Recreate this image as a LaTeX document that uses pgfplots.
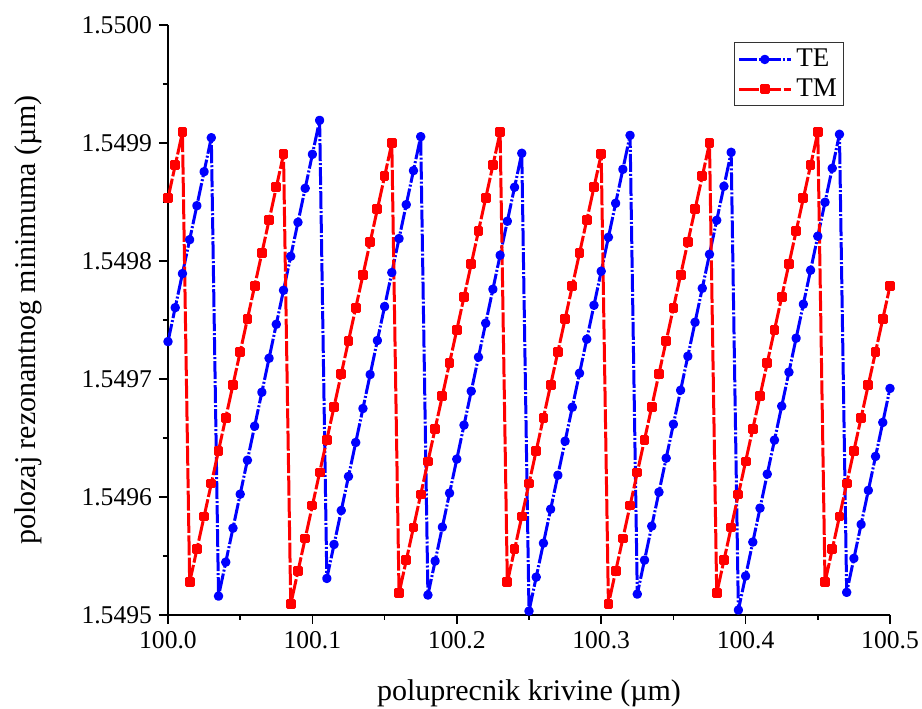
\documentclass[border=0pt]{standalone}
\usepackage{pgfplots}
\pgfplotsset{compat=1.18}
\usepackage{pgfplotstable}
\usepackage{fontspec}
\setmainfont{Liberation Serif}

\pgfplotstableread{
x y
100.000 1.5497317
100.005 1.5497605
100.010 1.5497893
100.015 1.5498181
100.020 1.5498469
100.025 1.5498757
100.030 1.5499045
100.035 1.5495160
100.040 1.5495448
100.045 1.5495736
100.050 1.5496024
100.055 1.5496312
100.060 1.5496600
100.065 1.5496888
100.070 1.5497176
100.075 1.5497464
100.080 1.5497752
100.085 1.5498040
100.090 1.5498328
100.095 1.5498616
100.100 1.5498904
100.105 1.5499192
100.110 1.5495310
100.115 1.5495598
100.120 1.5495886
100.125 1.5496174
100.130 1.5496462
100.135 1.5496750
100.140 1.5497038
100.145 1.5497326
100.150 1.5497614
100.155 1.5497902
100.160 1.5498190
100.165 1.5498478
100.170 1.5498766
100.175 1.5499054
100.180 1.5495169
100.185 1.5495457
100.190 1.5495745
100.195 1.5496033
100.200 1.5496321
100.205 1.5496609
100.210 1.5496897
100.215 1.5497185
100.220 1.5497473
100.225 1.5497761
100.230 1.5498049
100.235 1.5498337
100.240 1.5498625
100.245 1.5498913
100.250 1.5495033
100.255 1.5495321
100.260 1.5495609
100.265 1.5495897
100.270 1.5496185
100.275 1.5496473
100.280 1.5496761
100.285 1.5497049
100.290 1.5497337
100.295 1.5497625
100.300 1.5497913
100.305 1.5498201
100.310 1.5498489
100.315 1.5498777
100.320 1.5499065
100.325 1.5495177
100.330 1.5495465
100.335 1.5495753
100.340 1.5496041
100.345 1.5496329
100.350 1.5496617
100.355 1.5496905
100.360 1.5497193
100.365 1.5497481
100.370 1.5497769
100.375 1.5498057
100.380 1.5498345
100.385 1.5498633
100.390 1.5498921
100.395 1.5495042
100.400 1.5495330
100.405 1.5495618
100.410 1.5495906
100.415 1.5496194
100.420 1.5496482
100.425 1.5496770
100.430 1.5497058
100.435 1.5497346
100.440 1.5497634
100.445 1.5497922
100.450 1.5498210
100.455 1.5498498
100.460 1.5498786
100.465 1.5499074
100.470 1.5495192
100.475 1.5495480
100.480 1.5495768
100.485 1.5496056
100.490 1.5496344
100.495 1.5496632
100.500 1.5496920
}\TEdata

\pgfplotstableread{
x y
100.000 1.5498532
100.005 1.5498811
100.010 1.5499090
100.015 1.5495277
100.020 1.5495556
100.025 1.5495835
100.030 1.5496114
100.035 1.5496393
100.040 1.5496672
100.045 1.5496951
100.050 1.5497230
100.055 1.5497509
100.060 1.5497788
100.065 1.5498067
100.070 1.5498346
100.075 1.5498625
100.080 1.5498904
100.085 1.5495091
100.090 1.5495370
100.095 1.5495649
100.100 1.5495928
100.105 1.5496207
100.110 1.5496486
100.115 1.5496765
100.120 1.5497044
100.125 1.5497323
100.130 1.5497602
100.135 1.5497881
100.140 1.5498160
100.145 1.5498439
100.150 1.5498718
100.155 1.5498997
100.160 1.5495184
100.165 1.5495463
100.170 1.5495742
100.175 1.5496021
100.180 1.5496300
100.185 1.5496579
100.190 1.5496858
100.195 1.5497137
100.200 1.5497416
100.205 1.5497695
100.210 1.5497974
100.215 1.5498253
100.220 1.5498532
100.225 1.5498811
100.230 1.5499090
100.235 1.5495277
100.240 1.5495556
100.245 1.5495835
100.250 1.5496114
100.255 1.5496393
100.260 1.5496672
100.265 1.5496951
100.270 1.5497230
100.275 1.5497509
100.280 1.5497788
100.285 1.5498067
100.290 1.5498346
100.295 1.5498625
100.300 1.5498904
100.305 1.5495091
100.310 1.5495370
100.315 1.5495649
100.320 1.5495928
100.325 1.5496207
100.330 1.5496486
100.335 1.5496765
100.340 1.5497044
100.345 1.5497323
100.350 1.5497602
100.355 1.5497881
100.360 1.5498160
100.365 1.5498439
100.370 1.5498718
100.375 1.5498997
100.380 1.5495184
100.385 1.5495463
100.390 1.5495742
100.395 1.5496021
100.400 1.5496300
100.405 1.5496579
100.410 1.5496858
100.415 1.5497137
100.420 1.5497416
100.425 1.5497695
100.430 1.5497974
100.435 1.5498253
100.440 1.5498532
100.445 1.5498811
100.450 1.5499090
100.455 1.5495277
100.460 1.5495556
100.465 1.5495835
100.470 1.5496114
100.475 1.5496393
100.480 1.5496672
100.485 1.5496951
100.490 1.5497230
100.495 1.5497509
100.500 1.5497788
}\TMdata

\begin{document}
\begin{tikzpicture}
\useasboundingbox (-84pt,-46.5pt) rectangle (377pt,307.5pt);
\begin{axis}[
  at={(0pt,0pt)}, anchor=south west,
  scale only axis, width=361pt, height=295pt,
  xmin=100, xmax=100.5, ymin=1.5495, ymax=1.55,
  axis x line*=bottom, axis y line*=left,
  axis line style={line width=1pt, -},
  xtick={100,100.1,100.2,100.3,100.4,100.5},
  ytick={1.5495,1.5496,1.5497,1.5498,1.5499,1.55},
  minor x tick num=1, minor y tick num=1,
  tick align=outside,
  major tick length=4.5pt, minor tick length=2.5pt,
  tick style={line width=0.8pt, black},
  /pgf/number format/assume math mode=true,
  xticklabel style={/pgf/number format/.cd, fixed, fixed zerofill, precision=1},
  yticklabel style={/pgf/number format/.cd, fixed, fixed zerofill, precision=4},
  ticklabel style={font=\fontsize{12.8}{14}\selectfont},
  xlabel={poluprecnik krivine (µm)},
  ylabel={polozaj rezonantnog minimuma (µm)},
  xlabel style={at={(axis description cs:0.5,-0.132)}, anchor=center, font=\fontsize{15}{18}\selectfont},
  ylabel style={at={(axis description cs:-0.194,0.5)}, anchor=center, font=\fontsize{15}{18}\selectfont},
  legend style={at={(axis description cs:0.936,0.971)}, anchor=north east,
    draw=black!80, line width=0.6pt, font=\fontsize{13.5}{15}\selectfont,
    inner sep=1.2pt, row sep=0.5pt, cells={anchor=west}},
  legend image code/.code={\draw[mark repeat=2,mark phase=2,#1] plot coordinates {(0pt,0pt) (13pt,0pt) (26pt,0pt)};},
]
\addplot[color={rgb,255:red,0;green,0;blue,255}, line width=1.5pt, line join=round,
  dash pattern=on 9pt off 1pt on 1pt off 1pt,
  mark=*, mark size=1.6pt, mark options={solid}] table[x=x,y=y] {\TEdata};
\addlegendentry{TE}
\addplot[color={rgb,255:red,255;green,0;blue,0}, line width=1.5pt, line join=round,
  dash pattern=on 10pt off 1.2pt,
  mark=square*, mark size=1.7pt, mark options={solid}] table[x=x,y=y] {\TMdata};
\addlegendentry{TM}
\end{axis}
\end{tikzpicture}
\end{document}
